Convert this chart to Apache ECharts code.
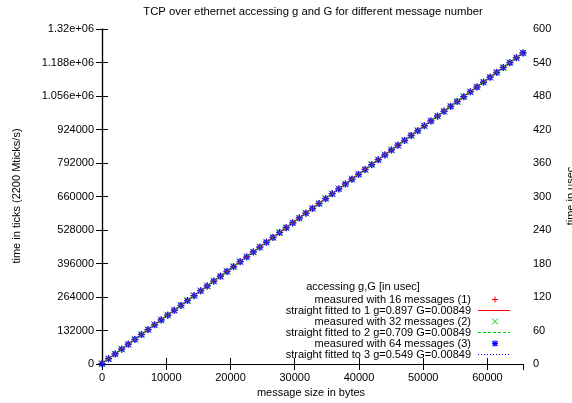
<!DOCTYPE html>
<html>
<head>
<meta charset="utf-8">
<script src="https://cdn.jsdelivr.net/npm/echarts@6/dist/echarts.min.js"></script>
<style>
  html, body { margin: 0; padding: 0; background: #fff; }
  #chart { width: 572px; height: 403px; }
</style>
</head>
<body>
<div id="chart"></div>
<script>
// Message sizes in bytes (one measurement every 1024 bytes)
var sizes = [0, 1024, 2048, 3072, 4096, 5120, 6144, 7168, 8192, 9216, 10240, 11264, 12288, 13312, 14336, 15360,
  16384, 17408, 18432, 19456, 20480, 21504, 22528, 23552, 24576, 25600, 26624, 27648, 28672, 29696, 30720, 31744,
  32768, 33792, 34816, 35840, 36864, 37888, 38912, 39936, 40960, 41984, 43008, 44032, 45056, 46080, 47104, 48128,
  49152, 50176, 51200, 52224, 53248, 54272, 55296, 56320, 57344, 58368, 59392, 60416, 61440, 62464, 63488, 64512, 65536];

// Measured access times in usec
var measured16 = [0.9, 9.6, 18.3, 27.0, 35.7, 44.4, 53.1, 61.8, 70.4, 79.1, 87.8, 96.5, 105.2, 113.9, 122.6, 131.3,
  140.0, 148.7, 157.4, 166.1, 174.8, 183.5, 192.2, 200.9, 209.5, 218.2, 226.9, 235.6, 244.3, 253.0, 261.7, 270.4,
  279.1, 287.8, 296.5, 305.2, 313.9, 322.6, 331.3, 340.0, 348.6, 357.3, 366.0, 374.7, 383.4, 392.1, 400.8, 409.5,
  418.2, 426.9, 435.6, 444.3, 453.0, 461.7, 470.4, 479.1, 487.7, 496.4, 505.1, 513.8, 522.5, 531.2, 539.9, 548.6, 557.3];
var measured32 = [0.7, 9.4, 18.1, 26.8, 35.5, 44.2, 52.9, 61.6, 70.3, 79.0, 87.6, 96.3, 105.0, 113.7, 122.4, 131.1,
  139.8, 148.5, 157.2, 165.9, 174.6, 183.3, 192.0, 200.7, 209.4, 218.1, 226.7, 235.4, 244.1, 252.8, 261.5, 270.2,
  278.9, 287.6, 296.3, 305.0, 313.7, 322.4, 331.1, 339.8, 348.5, 357.2, 365.8, 374.5, 383.2, 391.9, 400.6, 409.3,
  418.0, 426.7, 435.4, 444.1, 452.8, 461.5, 470.2, 478.9, 487.6, 496.3, 504.9, 513.6, 522.3, 531.0, 539.7, 548.4, 557.1];
var measured64 = [0.5, 9.2, 17.9, 26.6, 35.3, 44.0, 52.7, 61.4, 70.1, 78.8, 87.5, 96.2, 104.9, 113.6, 122.3, 131.0,
  139.6, 148.3, 157.0, 165.7, 174.4, 183.1, 191.8, 200.5, 209.2, 217.9, 226.6, 235.3, 244.0, 252.7, 261.4, 270.1,
  278.7, 287.4, 296.1, 304.8, 313.5, 322.2, 330.9, 339.6, 348.3, 357.0, 365.7, 374.4, 383.1, 391.8, 400.5, 409.2,
  417.8, 426.5, 435.2, 443.9, 452.6, 461.3, 470.0, 478.7, 487.4, 496.1, 504.8, 513.5, 522.2, 530.9, 539.6, 548.3, 557.0];

// Fitted parameters: t = g + G * size  (usec)
var fitG = [0.897, 0.709, 0.549];
var fitSlope = 0.00849;

var legendLabels = [
  'measured with 16 messages (1)',
  'straight fitted to 1 g=0.897 G=0.00849',
  'measured with 32 messages (2)',
  'straight fitted to 2 g=0.709 G=0.00849',
  'measured with 64 messages (3)',
  'straight fitted to 3 g=0.549 G=0.00849'
];
var legendTitle = 'accessing g,G [in usec]';

var xMax = 65536;
var FONT = "'Liberation Sans', Arial, Helvetica, sans-serif";
var RED = '#ff0000', GREEN = '#00d000', BLUE = '#0000ff';

function pairs(ys) {
  return sizes.map(function (s, i) { return [s, ys[i]]; });
}
function fitLine(g) {
  return [[0, g], [xMax, g + fitSlope * xMax]];
}
// gnuplot-like %g formatting for large tick values
function gnuFmt(v) {
  if (v >= 1e6) {
    var s = v.toExponential(3).replace(/0+e/, 'e').replace(/\.e/, 'e');
    return s.replace(/e\+(\d)$/, 'e+0$1');
  }
  return String(v);
}

var plusPath = 'path://M0,4H8M4,0V8';
var crossPath = 'path://M0,0L8,8M8,0L0,8';
var starPath = 'path://M0,4H8M4,0V8M1,1L7,7M7,1L1,7';

function pointSeries(data, path, color, bw) {
  return {
    type: 'scatter', xAxisIndex: 0, yAxisIndex: 1, data: pairs(data),
    symbol: path, symbolSize: 7, silent: true,
    itemStyle: { color: 'none', borderColor: color, borderWidth: bw }
  };
}
function lineSeries(g, color, type) {
  return {
    type: 'line', xAxisIndex: 0, yAxisIndex: 1, data: fitLine(g),
    showSymbol: false, silent: true,
    lineStyle: { color: color, width: 1, type: type }
  };
}

function txt(t, x, y, align, rot, size) {
  return { type: 'text', x: x, y: y, rotation: rot || 0, silent: true,
    style: { text: t, font: (size || 11) + 'px ' + FONT, fill: '#000', textAlign: align, textVerticalAlign: 'middle' } };
}

// Key drawn inside the plot, text right-aligned left of the samples
var keyX = 471, sx0 = 478, sx1 = 510, mx = 495;
var rowY = [299.5, 310.5, 321.5, 332.5, 343.5, 354.5];
var graphics = [];
graphics.push(txt('TCP over ethernet accessing g and G for different message number', 313, 12, 'center', 0, 11.3));
graphics.push(txt('time in ticks (2200 Mticks/s)', 17, 196, 'center', Math.PI / 2));
graphics.push(txt('time in usec', 571, 196, 'center', Math.PI / 2));
graphics.push(txt('message size in bytes', 311, 393, 'center'));
graphics.push(txt(legendTitle, 363, 287, 'center'));
legendLabels.forEach(function (t, i) {
  graphics.push(txt(t, keyX, rowY[i], 'right'));
});
function seg(x1, y1, x2, y2, color, w, dash) {
  graphics.push({ type: 'line', silent: true, shape: { x1: x1, y1: y1, x2: x2, y2: y2 },
    style: { stroke: color, lineWidth: w, lineDash: dash || null } });
}
// sample marks
var r = 3;
seg(mx - r, rowY[0], mx + r, rowY[0], RED, 1); seg(mx, rowY[0] - r, mx, rowY[0] + r, RED, 1);
seg(sx0, rowY[1], sx1, rowY[1], RED, 1);
seg(mx - r, rowY[2] - r, mx + r, rowY[2] + r, GREEN, 1); seg(mx + r, rowY[2] - r, mx - r, rowY[2] + r, GREEN, 1);
seg(sx0, rowY[3], sx1, rowY[3], GREEN, 1, [3, 2]);
seg(mx - r, rowY[4], mx + r, rowY[4], BLUE, 1.3); seg(mx, rowY[4] - r, mx, rowY[4] + r, BLUE, 1.3);
seg(mx - r + 0.5, rowY[4] - r + 0.5, mx + r - 0.5, rowY[4] + r - 0.5, BLUE, 1.3);
seg(mx + r - 0.5, rowY[4] - r + 0.5, mx - r + 0.5, rowY[4] + r - 0.5, BLUE, 1.3);
seg(sx0, rowY[5], sx1, rowY[5], BLUE, 1, [1, 2]);

var tickStyle = { inside: true, length: 6, lineStyle: { color: '#000', width: 1 } };
var axisLineStyle = { show: true, lineStyle: { color: '#000', width: 1.2 } };
var labelStyle = { color: '#000', fontSize: 11, fontFamily: FONT };

var option = {
  animation: false,
  backgroundColor: '#fff',
  grid: { left: 102, right: 49, top: 29, bottom: 39, containLabel: false },
  xAxis: [
    { type: 'value', position: 'bottom', min: 0, max: xMax, interval: 10000,
      axisLine: axisLineStyle, axisTick: tickStyle, splitLine: { show: false },
      axisLabel: Object.assign({ margin: 8, showMaxLabel: false, formatter: function (v) { return String(v); } }, labelStyle) },
    { type: 'value', position: 'top', min: 0, max: xMax, interval: 10000,
      axisLine: axisLineStyle, axisTick: tickStyle, splitLine: { show: false },
      axisLabel: { show: false } }
  ],
  yAxis: [
    { type: 'value', position: 'left', min: 0, max: 1320000, interval: 132000,
      axisLine: axisLineStyle, axisTick: tickStyle, splitLine: { show: false },
      axisLabel: Object.assign({ margin: 8, formatter: gnuFmt }, labelStyle) },
    { type: 'value', position: 'right', min: 0, max: 600, interval: 60,
      axisLine: axisLineStyle, axisTick: tickStyle, splitLine: { show: false },
      axisLabel: Object.assign({ margin: 10, formatter: function (v) { return String(v); } }, labelStyle) }
  ],
  series: [
    pointSeries(measured16, plusPath, RED, 1),
    lineSeries(fitG[0], RED, 'solid'),
    pointSeries(measured32, crossPath, GREEN, 1),
    lineSeries(fitG[1], GREEN, [3, 2]),
    pointSeries(measured64, starPath, BLUE, 1.5),
    lineSeries(fitG[2], BLUE, [1, 2])
  ],
  graphic: graphics
};

var chart = echarts.init(document.getElementById('chart'), null, { renderer: 'canvas' });
chart.setOption(option);
</script>
</body>
</html>
